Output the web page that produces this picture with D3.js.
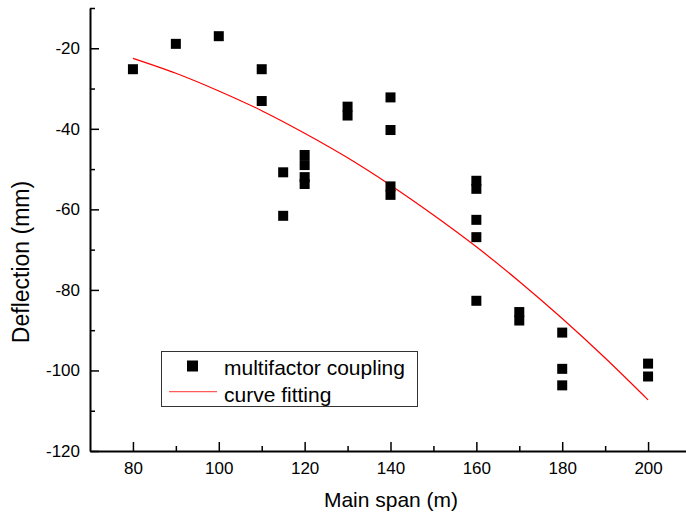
<!DOCTYPE html>
<html><head><meta charset="utf-8">
<script src="https://cdn.jsdelivr.net/npm/d3@7"></script>
<style>
html,body{margin:0;padding:0;background:#fff;}
text{font-family:Arial,"Liberation Sans",sans-serif;fill:#000;}
</style></head>
<body><svg id="chart" width="686" height="516"></svg>
<script>
const spanX = [80, 90, 100, 110, 110, 115, 115, 120, 120, 120, 120, 130, 130, 140, 140, 140, 140, 160, 160, 160, 160, 160, 170, 170, 180, 180, 180, 200, 200];
const deflection = [-25.2, -18.9, -17.0, -25.2, -33.1, -50.8, -61.6, -46.5, -49.0, -52.0, -53.7, -34.5, -36.7, -32.2, -40.3, -54.3, -56.4, -52.9, -54.9, -62.6, -66.9, -82.7, -85.5, -87.6, -90.6, -99.6, -103.7, -98.3, -101.5];
const fitX = [80, 90, 100, 110, 120, 130, 140, 150, 160, 170, 180, 190, 200];
const fitY = [-22.5, -26.2, -30.6, -35.5, -41.1, -47.2, -54.0, -61.4, -69.3, -77.9, -87.1, -96.9, -107.3];
const xMajor = [80, 100, 120, 140, 160, 180, 200];
const xMinor = [90, 110, 130, 150, 170, 190];
const yMajor = [-120, -100, -80, -60, -40, -20];
const yMinor = [-110, -90, -70, -50, -30, -10];
const seriesNames = ["multifactor coupling", "curve fitting"];
const xTitle = "Main span (m)";
const yTitle = "Deflection (mm)";

const svg = d3.select("#chart");
const x = d3.scaleLinear().domain([70, 210]).range([90, 691]);
const y = d3.scaleLinear().domain([-120, -10]).range([451, 8]);
const fmt = d => String(d);

// Minor ticks
svg.append("g").attr("transform","translate(90,0)")
  .call(d3.axisLeft(y).tickValues(yMinor).tickSize(-5).tickFormat("").tickSizeOuter(0))
  .call(g=>g.select(".domain").remove())
  .call(g=>g.selectAll("line").attr("stroke","#000").attr("stroke-width",1.5));
svg.append("g").attr("transform","translate(0,451)")
  .call(d3.axisBottom(x).tickValues(xMinor).tickSize(-5).tickFormat("").tickSizeOuter(0))
  .call(g=>g.select(".domain").remove())
  .call(g=>g.selectAll("line").attr("stroke","#000").attr("stroke-width",1.5));

// Major axes
const yAx = svg.append("g").attr("transform","translate(90,0)")
  .call(d3.axisLeft(y).tickValues(yMajor).tickSize(-9).tickPadding(10).tickSizeOuter(0).tickFormat(fmt));
yAx.select(".domain").attr("stroke","#000").attr("stroke-width",2);
yAx.selectAll("line").attr("stroke","#000").attr("stroke-width",1.5);
yAx.selectAll("text").attr("font-size",17).style("font-family","Arial, 'Liberation Sans', sans-serif").attr("fill","#000");

const xAx = svg.append("g").attr("transform","translate(0,451)")
  .call(d3.axisBottom(x).tickValues(xMajor).tickSize(-9).tickPadding(11).tickSizeOuter(0).tickFormat(fmt));
xAx.select(".domain").attr("stroke","#000").attr("stroke-width",2);
xAx.selectAll("line").attr("stroke","#000").attr("stroke-width",1.5);
xAx.selectAll("text").attr("font-size",17).style("font-family","Arial, 'Liberation Sans', sans-serif").attr("fill","#000");

// Titles
svg.append("text").attr("x",391).attr("y",507).attr("text-anchor","middle")
  .attr("font-size",21).text(xTitle);
svg.append("text").attr("transform","translate(29,262) rotate(-90)").attr("text-anchor","middle")
  .attr("font-size",23).text(yTitle);

// Fit curve
const line = d3.line().x((d,i)=>x(fitX[i])).y(d=>y(d)).curve(d3.curveCatmullRom);
svg.append("path").datum(fitY).attr("d",line).attr("fill","none").attr("stroke","#ff0000").attr("stroke-width",1.2);

// Points
const ms = 10;
svg.append("g").selectAll("rect").data(deflection).join("rect")
  .attr("x",(d,i)=>x(spanX[i])-ms/2).attr("y",d=>y(d)-ms/2)
  .attr("width",ms).attr("height",ms).attr("fill","#000");

// Legend
const lg = svg.append("g");
lg.append("rect").attr("x",161.5).attr("y",351.5).attr("width",256).attr("height",55)
  .attr("fill","#fff").attr("stroke","#333").attr("stroke-width",1);
lg.append("rect").attr("x",187).attr("y",360.5).attr("width",11).attr("height",11).attr("fill","#000");
lg.append("text").attr("x",224).attr("y",375).attr("font-size",21).text(seriesNames[0]);
lg.append("line").attr("x1",169).attr("x2",217).attr("y1",391.7).attr("y2",391.7)
  .attr("stroke","#ff5a5a").attr("stroke-width",1.2);
lg.append("text").attr("x",224).attr("y",402).attr("font-size",21).text(seriesNames[1]);
</script></body></html>
